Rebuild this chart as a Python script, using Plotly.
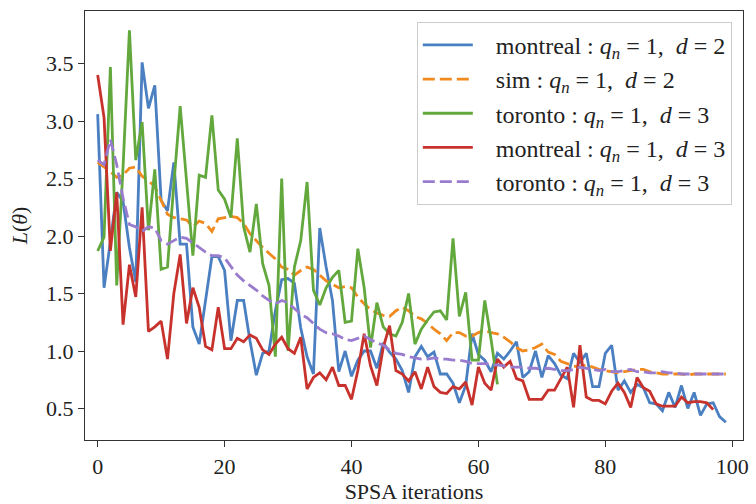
import plotly.graph_objects as go

# ---- data ----
blue_montreal_d2 = [3.06, 1.55, 1.95, 2.38, 2.30, 1.90, 1.60, 3.51, 3.11, 3.31,
                    2.31, 2.22, 2.64, 1.93, 1.93, 1.21, 1.06, 1.45, 1.82, 1.82,
                    1.70, 1.09, 1.44, 1.44, 1.09, 0.79, 0.98, 1.00, 1.35, 1.62,
                    1.63, 1.59, 1.20, 0.95, 0.80, 2.07, 1.73, 1.44, 0.82, 1.00,
                    0.78, 0.92, 1.00, 1.00, 0.85, 1.07, 0.99, 0.93, 0.83, 0.64,
                    0.95, 1.04, 0.95, 0.99, 0.80, 0.80, 0.72, 0.55, 0.70, 1.15,
                    0.97, 0.92, 0.82, 0.98, 0.93, 1.00, 1.08, 0.77, 0.82, 1.00,
                    0.77, 0.96, 0.89, 0.79, 0.76, 0.98, 0.90, 0.98, 0.69, 0.69,
                    0.98, 1.05, 0.66, 0.74, 0.64, 0.71, 0.68, 0.55, 0.54, 0.48,
                    0.64, 0.51, 0.70, 0.50, 0.64, 0.44, 0.54, 0.55, 0.43, 0.38]

orange_sim_d2 = [2.64, 2.60, 2.56, 2.51, 2.53, 2.59, 2.60, 2.52, 2.48, 2.43,
                 2.31, 2.19, 2.16, 2.15, 2.14, 2.08, 2.13, 2.11, 2.04, 2.15,
                 2.16, 2.17, 2.16, 2.11, 2.02, 1.96, 1.90, 1.85, 1.80, 1.73,
                 1.71, 1.66, 1.70, 1.73, 1.71, 1.66, 1.61, 1.58, 1.55, 1.56,
                 1.55, 1.47, 1.41, 1.36, 1.33, 1.31, 1.30, 1.35, 1.38, 1.35,
                 1.30, 1.28, 1.24, 1.19, 1.15, 1.09, 1.16, 1.16, 1.13, 1.13,
                 1.16, 1.18, 1.16, 1.15, 1.12, 1.08, 1.03, 1.00, 1.01, 1.03,
                 1.06, 0.99, 0.97, 0.91, 0.89, 0.87, 0.86, 0.88, 0.86, 0.84,
                 0.83, 0.82, 0.81, 0.82, 0.83, 0.84, 0.84, 0.82, 0.81, 0.80,
                 0.80, 0.80, 0.80, 0.79, 0.80, 0.80, 0.80, 0.80, 0.80, 0.80]

green_toronto_d3 = [1.87, 1.99, 3.47, 1.57, 2.60, 3.79, 2.66, 2.99, 2.05, 2.58,
                    1.71, 1.73, 2.45, 3.13, 2.48, 1.83, 2.53, 2.51, 3.05, 2.40,
                    2.32, 2.16, 2.85, 2.08, 1.86, 2.28, 1.76, 1.57, 0.95, 2.50,
                    1.00, 1.73, 1.96, 2.47, 1.53, 1.40, 1.55, 1.64, 1.70, 1.25,
                    1.26, 1.89, 1.55, 1.03, 1.42, 1.21, 1.15, 1.13, 1.25, 1.50,
                    1.06, 1.19, 1.27, 1.34, 1.35, 1.27, 1.98, 1.30, 1.51, 0.92,
                    0.92, 1.44, 1.10, 0.71]

red_montreal_d3 = [3.40, 3.03, 1.87, 2.38, 1.23, 1.75, 1.47, 2.25, 1.17, 1.21,
                   1.26, 0.93, 1.50, 1.84, 1.24, 1.55, 1.38, 1.04, 1.01, 1.38,
                   1.02, 1.02, 1.11, 1.08, 1.14, 1.11, 1.01, 0.97, 1.06, 1.12,
                   1.02, 0.98, 1.12, 0.67, 0.77, 0.81, 0.75, 0.86, 0.70, 0.70,
                   0.58, 0.83, 1.15, 0.87, 0.70, 1.03, 1.22, 0.83, 0.80, 0.74,
                   0.82, 0.67, 0.86, 0.69, 0.64, 0.63, 0.69, 0.67, 0.73, 0.53,
                   0.86, 0.72, 0.66, 0.93, 0.86, 0.91, 0.76, 0.74, 0.58, 0.58,
                   0.58, 0.66, 0.66, 0.76, 0.86, 0.51, 1.05, 0.60, 0.57, 0.57,
                   0.54, 0.65, 0.72, 0.64, 0.51, 0.77, 0.68, 0.65, 0.54, 0.52,
                   0.52, 0.52, 0.60, 0.55, 0.56, 0.56, 0.55, 0.49]

purple_toronto_d3 = [2.66, 2.62, 2.84, 2.62, 2.33, 2.10, 2.08, 2.04, 2.08, 2.07,
                     1.96, 1.93, 1.96, 1.99, 1.98, 1.94, 1.90, 1.86, 1.83, 1.83,
                     1.81, 1.73, 1.66, 1.61, 1.57, 1.53, 1.48, 1.44, 1.41, 1.44,
                     1.42, 1.37, 1.32, 1.29, 1.24, 1.19, 1.16, 1.15, 1.13, 1.10,
                     1.09, 1.11, 1.13, 1.10, 1.07, 1.05, 1.01, 0.98, 0.97, 0.95,
                     0.94, 0.93, 0.93, 0.94, 0.93, 0.93, 0.92, 0.92, 0.91, 0.89,
                     0.89, 0.89, 0.88, 0.88, 0.87, 0.86, 0.86, 0.86, 0.85, 0.85,
                     0.84, 0.85, 0.84, 0.83, 0.83, 0.84, 0.86, 0.85, 0.84, 0.83,
                     0.84, 0.82, 0.82, 0.83, 0.84, 0.82, 0.82, 0.81, 0.81, 0.82,
                     0.81, 0.81, 0.80, 0.80, 0.80, 0.80, 0.80, 0.80, 0.80, 0.80]

legend_names = [
    "montreal : <i>q</i><sub><i>n</i></sub> = 1,\u00a0 <i>d</i> = 2",
    "sim : <i>q</i><sub><i>n</i></sub> = 1,\u00a0 <i>d</i> = 2",
    "toronto : <i>q</i><sub><i>n</i></sub> = 1,\u00a0 <i>d</i> = 3",
    "montreal : <i>q</i><sub><i>n</i></sub> = 1,\u00a0 <i>d</i> = 3",
    "toronto : <i>q</i><sub><i>n</i></sub> = 1,\u00a0 <i>d</i> = 3",
]
x_ticks = [0, 20, 40, 60, 80, 100]
y_ticks = [0.5, 1.0, 1.5, 2.0, 2.5, 3.0, 3.5]

series = [blue_montreal_d2, orange_sim_d2, green_toronto_d3, red_montreal_d3, purple_toronto_d3]
colors = ["#4a7fc1", "#f08a1e", "#62a83c", "#c8322c", "#9a7ccf"]
dashes = ["solid", "12px,5px", "solid", "solid", "12px,5px"]

FONT = "Liberation Serif"

fig = go.Figure()
for ys, name, c, d in zip(series, legend_names, colors, dashes):
    fig.add_trace(go.Scatter(
        x=list(range(len(ys))), y=ys, mode="lines",
        name="\u00a0\u00a0\u00a0" + name,
        line=dict(color=c, width=2.8, dash=d),
    ))

axis_common = dict(
    showline=True, mirror=True, linecolor="#333333", linewidth=1.3,
    ticks="outside", ticklen=6, tickwidth=1.3, tickcolor="#333333",
    showgrid=False, zeroline=False,
    tickfont=dict(family=FONT, size=22, color="#222222"),
)

fig.update_layout(
    width=756, height=504,
    margin=dict(l=85, r=7, t=11, b=63),
    paper_bgcolor="white", plot_bgcolor="white",
    font=dict(family=FONT, color="#222222"),
    xaxis=dict(range=[-2.0, 101.7], tickvals=x_ticks,
               title=dict(text="SPSA iterations", font=dict(family=FONT, size=22), standoff=3),
               **axis_common),
    yaxis=dict(range=[0.226, 3.957], tickvals=y_ticks, tickformat=".1f",
               title=dict(text="<i>L</i>(<i>θ</i>)", font=dict(family=FONT, size=22), standoff=12),
               **axis_common),
    legend=dict(
        x=0.983, y=0.975, xanchor="right", yanchor="top",
        bgcolor="white", bordercolor="#cccccc", borderwidth=1,
        font=dict(family=FONT, size=24, color="#222222"),
        itemwidth=50,
    ),
    showlegend=True,
)

fig.write_html("out.html")
